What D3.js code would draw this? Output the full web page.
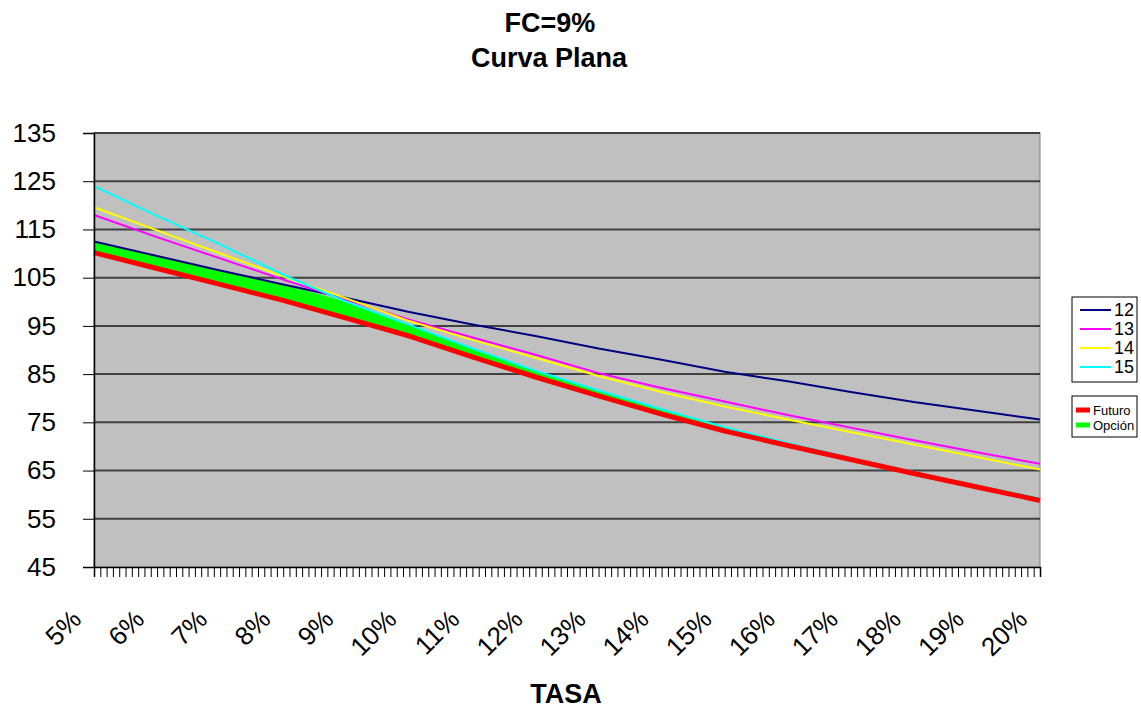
<!DOCTYPE html>
<html>
<head>
<meta charset="utf-8">
<script src="https://cdn.jsdelivr.net/npm/d3@7"></script>
<style>
  body { margin: 0; background: #fff; }
  text { font-family: "Liberation Sans", Arial, sans-serif; }
</style>
</head>
<body>
<main></main>
<script>
// tasas (%) and values
const tasas = [5, 6, 7, 8, 9, 10, 11, 12, 13, 14, 15, 16, 17, 18, 19, 20];
const serie12 = [112.5, 109.5, 106.5, 103.6, 100.8, 97.9, 95.3, 92.9, 90.3, 88.0, 85.5, 83.5, 81.3, 79.2, 77.4, 75.6];
const serie13 = [118.0, 113.4, 109.0, 104.6, 100.4, 96.3, 92.6, 89.0, 85.2, 82.1, 79.3, 76.5, 73.9, 71.3, 68.8, 66.4];
const serie14 = [119.6, 114.8, 110.0, 105.3, 100.7, 96.0, 92.1, 88.4, 84.6, 81.3, 78.3, 75.6, 73.0, 70.4, 67.8, 65.2];
const serie15 = [124.0, 117.8, 111.9, 105.6, 100.0, 95.2, 90.3, 85.7, 81.6, 77.7, 74.0, 70.7, 67.6, 64.7, 61.9, 59.2];
const futuro = [110.2, 106.9, 103.6, 100.3, 96.6, 92.9, 88.6, 84.4, 80.5, 76.7, 73.2, 70.2, 67.3, 64.4, 61.6, 58.8];
const opcion = [2.3, 2.6, 2.9, 3.3, 3.4, 2.3, 1.7, 1.3, 1.1, 1.0, 0.6, 0.4, 0.3, 0.3, 0.3, 0.4];

const yTicks = [45, 55, 65, 75, 85, 95, 105, 115, 125, 135];
const xLabels = ["5%", "6%", "7%", "8%", "9%", "10%", "11%", "12%", "13%", "14%", "15%", "16%", "17%", "18%", "19%", "20%"];

const seriesBonos = [
  { name: "12", values: serie12, color: "#000080" },
  { name: "13", values: serie13, color: "#ff00ff" },
  { name: "14", values: serie14, color: "#ffff00" },
  { name: "15", values: serie15, color: "#00ffff" }
];

const svgWidth = 1141,
  svgHeight = 709,
  plotLeft = 94,
  plotRight = 1040,
  plotTop = 133,
  plotBottom = 567;

const xScale = d3.scaleLinear().domain([5, 20]).range([plotLeft, plotRight]),
  yScale = d3.scaleLinear().domain([45, 135]).range([plotBottom, plotTop]);

const svg = d3
  .select("main")
  .append("svg")
  .attr("width", svgWidth)
  .attr("height", svgHeight);

// plot area
svg.append("rect")
  .attr("x", plotLeft)
  .attr("y", plotTop)
  .attr("width", plotRight - plotLeft)
  .attr("height", plotBottom - plotTop)
  .attr("fill", "#c0c0c0")
  .attr("stroke", "#808080");

// gridlines
svg.append("g")
  .selectAll("line")
  .data(yTicks.slice(1))
  .join("line")
  .attr("x1", plotLeft)
  .attr("x2", plotRight)
  .attr("y1", d => yScale(d))
  .attr("y2", d => yScale(d))
  .attr("stroke", "#404040")
  .attr("stroke-width", 2);

// green area: opcion on top of futuro
const area = d3.area()
  .x((d, i) => xScale(tasas[i]))
  .y0((d, i) => yScale(futuro[i]))
  .y1((d, i) => yScale(futuro[i] + opcion[i]));
svg.append("path")
  .datum(opcion)
  .attr("d", area)
  .attr("fill", "#00ff00");

const line = d3.line()
  .x((d, i) => xScale(tasas[i]))
  .y(d => yScale(d));

seriesBonos.forEach(s => {
  svg.append("path")
    .datum(s.values)
    .attr("d", line)
    .attr("fill", "none")
    .attr("stroke", s.color)
    .attr("stroke-width", 2);
});

svg.append("path")
  .datum(futuro)
  .attr("d", line)
  .attr("fill", "none")
  .attr("stroke", "#ff0000")
  .attr("stroke-width", 5)
  .attr("stroke-linejoin", "round");

// axes
const yAxis = d3.axisLeft(yScale).tickValues(yTicks).tickSize(11).tickPadding(27);
const gy = svg.append("g").attr("transform", `translate(${plotLeft},0)`).call(yAxis);
gy.select(".domain").attr("stroke", "#000").attr("stroke-width", 1.5);
gy.selectAll("text").attr("font-size", 26).attr("fill", "#000")
  .style("font-family", "'Liberation Sans', Arial, sans-serif");

const minorTicks = d3.range(0, 151).map(i => 5 + i / 10);
const xAxis = d3.axisBottom(xScale).tickValues(minorTicks).tickSize(10).tickFormat("");
const gx = svg.append("g").attr("transform", `translate(0,${plotBottom})`).call(xAxis);
gx.select(".domain").attr("stroke", "#000").attr("stroke-width", 1.5);

svg.append("g")
  .selectAll("text")
  .data(xLabels)
  .join("text")
  .attr("transform", (d, i) => `translate(${xScale(tasas[i]) - 25},${plotBottom + 40}) rotate(-45)`)
  .attr("text-anchor", "end")
  .attr("dy", "0.75em")
  .attr("font-size", 26)
  .text(d => d);

// titles
svg.append("text").attr("x", 550).attr("y", 32).attr("text-anchor", "middle")
  .attr("font-size", 27).attr("font-weight", "bold").text("FC=9%");
svg.append("text").attr("x", 549).attr("y", 67).attr("text-anchor", "middle")
  .attr("font-size", 27).attr("font-weight", "bold").text("Curva Plana");
svg.append("text").attr("x", 566).attr("y", 703).attr("text-anchor", "middle")
  .attr("font-size", 27).attr("font-weight", "bold").text("TASA");

// legend 1
const leg1 = svg.append("g");
leg1.append("rect").attr("x", 1072).attr("y", 297).attr("width", 65).attr("height", 85)
  .attr("fill", "#fff").attr("stroke", "#000");
seriesBonos.forEach((s, i) => {
  const y = 310 + i * 19;
  leg1.append("line").attr("x1", 1080).attr("x2", 1111).attr("y1", y).attr("y2", y)
    .attr("stroke", s.color).attr("stroke-width", 2);
  leg1.append("text").attr("x", 1114).attr("y", y).attr("dy", "0.35em")
    .attr("font-size", 18).text(s.name);
});

// legend 2
const leg2 = svg.append("g");
leg2.append("rect").attr("x", 1072).attr("y", 396).attr("width", 65).attr("height", 41)
  .attr("fill", "#fff").attr("stroke", "#000");
[["Futuro", "#ff0000"], ["Opción", "#00ff00"]].forEach((d, i) => {
  const y = 410 + i * 15;
  leg2.append("line").attr("x1", 1076).attr("x2", 1090).attr("y1", y).attr("y2", y)
    .attr("stroke", d[1]).attr("stroke-width", 5);
  leg2.append("text").attr("x", 1093).attr("y", y).attr("dy", "0.35em")
    .attr("font-size", 13).text(d[0]);
});
</script>
</body>
</html>
